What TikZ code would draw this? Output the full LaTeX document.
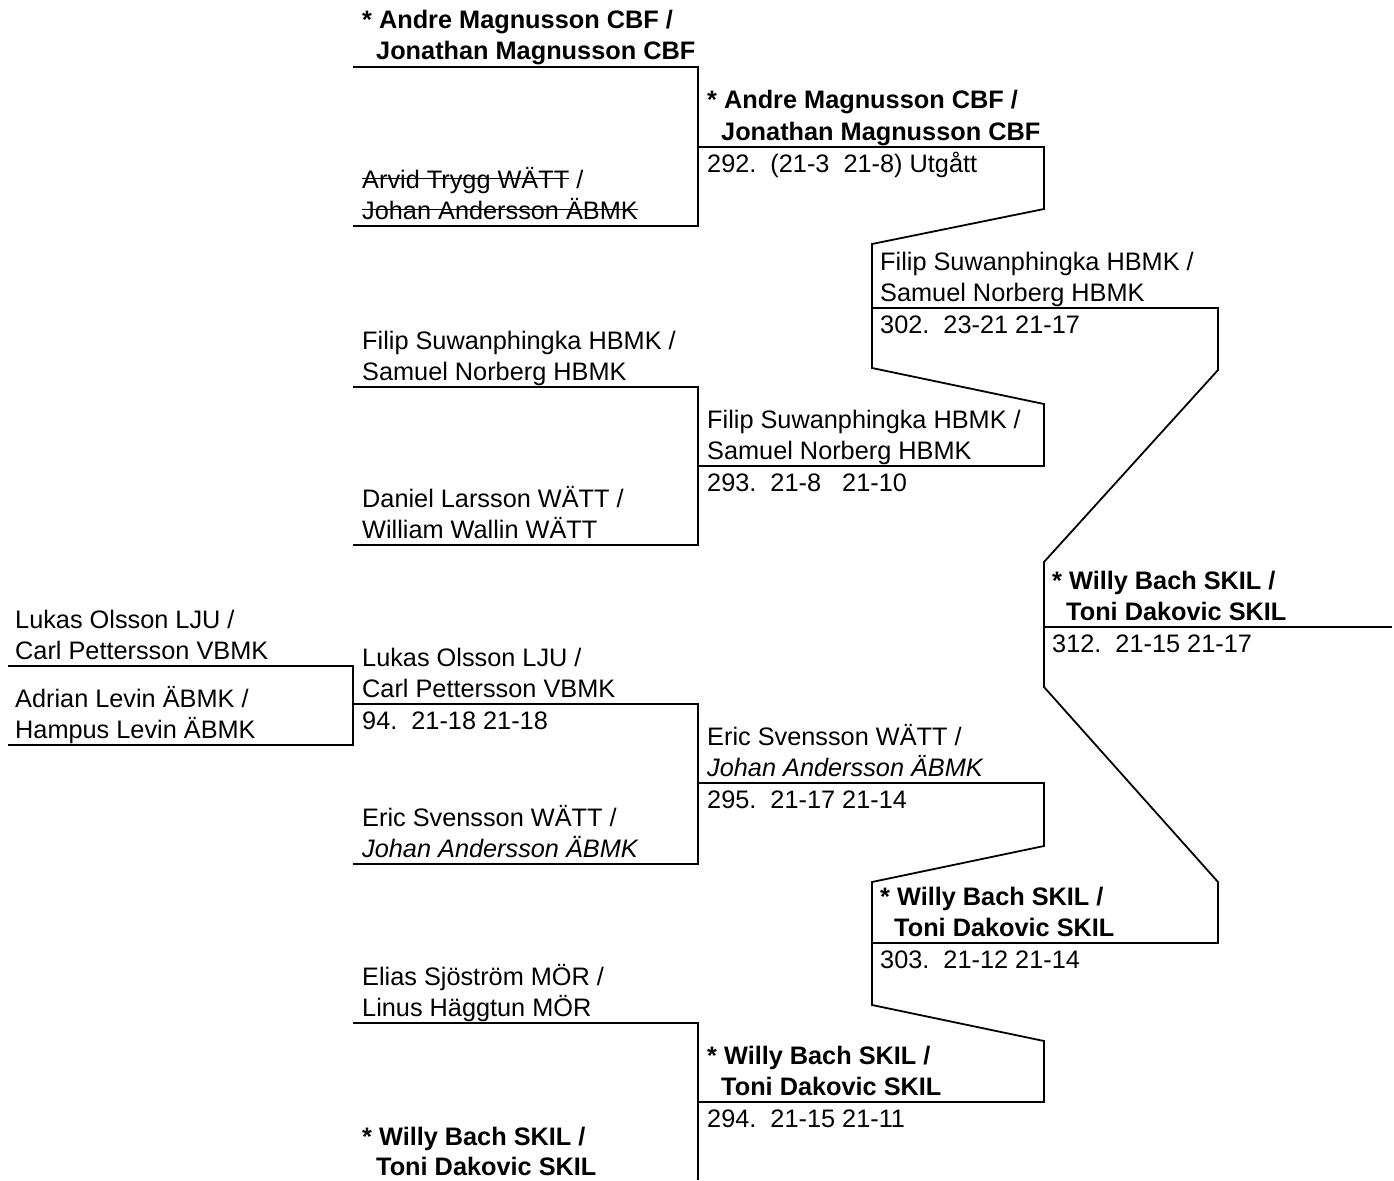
\documentclass[tikz,border=0pt]{standalone}
\usepackage{fontspec}
\setmainfont{Liberation Sans}
\newcommand{\strikeit}[1]{\setbox0\hbox{#1}\rlap{\rule[0.36em]{\wd0}{1.3pt}}\box0\relax}
\begin{document}
\begin{tikzpicture}[x=1pt,y=-1pt,
  txt/.style={anchor=base west, inner sep=0pt, font=\fontsize{25.3}{30}\selectfont},
  btxt/.style={anchor=base west, inner sep=0pt, font=\fontsize{25.3}{30}\selectfont\bfseries},
  itxt/.style={anchor=base west, inner sep=0pt, font=\fontsize{25.3}{30}\selectfont\itshape},
  brk/.style={line width=1.8pt, line join=miter}]
\useasboundingbox (0,0) rectangle (1394,1180);

% ---------- bracket lines ----------
\draw[brk] (8,666) -| (353,745) -- (8,745);
\draw[brk] (353,67) -| (698,226) -- (353,226);
\draw[brk] (353,387) -| (698,545) -- (353,545);
\draw[brk] (353,704) -| (698,864) -- (353,864);
\draw[brk] (353,1023) -| (698,1180);
\draw[brk] (698,147) -- (1044,147) -- (1044,209) -- (872,244) -- (872,368) -- (1044,404) -- (1044,466) -- (698,466);
\draw[brk] (698,783) -- (1044,783) -- (1044,846) -- (872,882) -- (872,1005) -- (1044,1041) -- (1044,1102) -- (698,1102);
\draw[brk] (872,308) -- (1218,308) -- (1218,370) -- (1044,562) -- (1044,687) -- (1218,882) -- (1218,943) -- (872,943);
\draw[brk] (1044,627) -- (1392,627);

% ---------- pre-round ----------
\node[txt] (p1a) at (15,628) {Lukas Olsson LJU /};
\node[txt] (p1b) at (15,659) {Carl Pettersson VBMK};
\node[txt] (p2a) at (15,707) {Adrian Levin ÄBMK /};
\node[txt] (p2b) at (15,738) {Hampus Levin ÄBMK};

% ---------- round 1 ----------
\node[btxt] (r1a) at (362,29) {* Andre Magnusson CBF /};
\node[btxt] (r1b) at (376,60) {Jonathan Magnusson CBF};
\node[txt] (r1c) at (362,188) {\strikeit{Arvid Trygg WÄTT} /};
\node[txt] (r1d) at (362,219) {\strikeit{Johan Andersson ÄBMK}};

\node[txt] (r2a) at (362,349) {Filip Suwanphingka HBMK /};
\node[txt] (r2b) at (362,380) {Samuel Norberg HBMK};
\node[txt] (r2c) at (362,507) {Daniel Larsson WÄTT /};
\node[txt] (r2d) at (362,538) {William Wallin WÄTT};

\node[txt] (r3a) at (362,666) {Lukas Olsson LJU /};
\node[txt] (r3b) at (362,697) {Carl Pettersson VBMK};
\node[txt] (s94) at (362,729) {94.\ \ 21-18 21-18};
\node[txt] (r3c) at (362,826) {Eric Svensson WÄTT /};
\node[itxt] (r3d) at (362,857) {Johan Andersson ÄBMK};

\node[txt] (r4a) at (362,985) {Elias Sjöström MÖR /};
\node[txt] (r4b) at (362,1016) {Linus Häggtun MÖR};
\node[btxt] (r4c) at (362,1145) {* Willy Bach SKIL /};
\node[btxt] (r4d) at (376,1175) {Toni Dakovic SKIL};

% ---------- round 2 ----------
\node[btxt] (q1a) at (707,109) {* Andre Magnusson CBF /};
\node[btxt] (q1b) at (721,140) {Jonathan Magnusson CBF};
\node[txt] (s292) at (707,172) {292.\ \ (21-3\ \ 21-8) Utgått};

\node[txt] (q2a) at (707,428) {Filip Suwanphingka HBMK /};
\node[txt] (q2b) at (707,459) {Samuel Norberg HBMK};
\node[txt] (s293) at (707,491) {293.\ \ 21-8\ \ \ 21-10};

\node[txt] (q3a) at (707,745) {Eric Svensson WÄTT /};
\node[itxt] (q3b) at (707,776) {Johan Andersson ÄBMK};
\node[txt] (s295) at (707,808) {295.\ \ 21-17 21-14};

\node[btxt] (q4a) at (707,1064) {* Willy Bach SKIL /};
\node[btxt] (q4b) at (721,1095) {Toni Dakovic SKIL};
\node[txt] (s294) at (707,1127) {294.\ \ 21-15 21-11};

% ---------- round 3 ----------
\node[txt] (t1a) at (880,270) {Filip Suwanphingka HBMK /};
\node[txt] (t1b) at (880,301) {Samuel Norberg HBMK};
\node[txt] (s302) at (880,333) {302.\ \ 23-21 21-17};

\node[btxt] (t2a) at (880,905) {* Willy Bach SKIL /};
\node[btxt] (t2b) at (894,936) {Toni Dakovic SKIL};
\node[txt] (s303) at (880,968) {303.\ \ 21-12 21-14};

% ---------- final ----------
\node[btxt] (f1a) at (1052,589) {* Willy Bach SKIL /};
\node[btxt] (f1b) at (1066,620) {Toni Dakovic SKIL};
\node[txt] (s312) at (1052,652) {312.\ \ 21-15 21-17};
\end{tikzpicture}
\end{document}
